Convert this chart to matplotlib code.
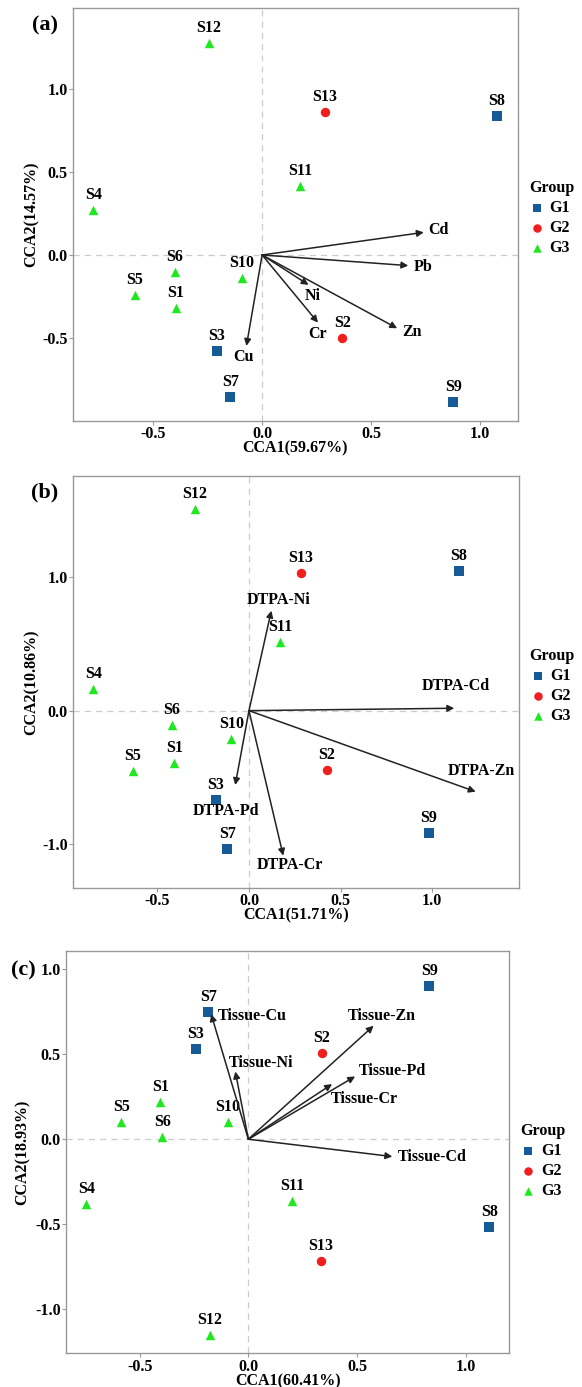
import matplotlib
matplotlib.use("Agg")
import matplotlib.pyplot as plt
import numpy as np

plt.rcParams["font.family"] = ["Liberation Serif", "DejaVu Serif"]
plt.rcParams["font.weight"] = "bold"
plt.rcParams["axes.unicode_minus"] = False

# sample names and groups (same for every panel)
samples = ["S1", "S2", "S3", "S4", "S5", "S6", "S7", "S8", "S9", "S10", "S11", "S12", "S13"]
groups = ["G3", "G2", "G1", "G3", "G3", "G3", "G1", "G1", "G1", "G3", "G3", "G3", "G2"]

# panel (a) - total metals
a_x = [-0.394, 0.368, -0.208, -0.774, -0.585, -0.399, -0.145, 1.077, 0.876, -0.094, 0.174, -0.244, 0.286]
a_y = [-0.319, -0.501, -0.580, 0.273, -0.239, -0.100, -0.856, 0.834, -0.886, -0.136, 0.415, 1.277, 0.858]
a_env = ["Cd", "Pb", "Ni", "Cr", "Zn", "Cu"]
a_env_x = [0.741, 0.670, 0.213, 0.256, 0.619, -0.072]
a_env_y = [0.136, -0.064, -0.180, -0.407, -0.441, -0.547]

# panel (b) - DTPA metals
b_x = [-0.408, 0.426, -0.181, -0.850, -0.633, -0.420, -0.118, 1.144, 0.980, -0.097, 0.172, -0.296, 0.284]
b_y = [-0.395, -0.448, -0.668, 0.165, -0.450, -0.108, -1.035, 1.050, -0.918, -0.215, 0.518, 1.515, 1.035]
b_env = ["DTPA-Ni", "DTPA-Cd", "DTPA-Zn", "DTPA-Pd", "DTPA-Cr"]
b_env_x = [0.122, 1.120, 1.237, -0.075, 0.187]
b_env_y = [0.750, 0.018, -0.608, -0.558, -1.088]

# panel (c) - tissue metals
c_x = [-0.405, 0.338, -0.241, -0.745, -0.585, -0.395, -0.185, 1.109, 0.832, -0.094, 0.202, -0.176, 0.332]
c_y = [0.220, 0.510, 0.533, -0.382, 0.100, 0.014, 0.751, -0.518, 0.902, 0.100, -0.361, -1.151, -0.714]
c_env = ["Tissue-Cu", "Tissue-Ni", "Tissue-Zn", "Tissue-Pd", "Tissue-Cr", "Tissue-Cd"]
c_env_x = [-0.171, -0.060, 0.576, 0.491, 0.385, 0.662]
c_env_y = [0.735, 0.398, 0.667, 0.369, 0.324, -0.102]

group_style = {
    "G1": dict(marker="s", color="#165a96"),
    "G2": dict(marker="o", color="#f01e1e"),
    "G3": dict(marker="^", color="#1ee81e"),
}

FS = 11.5


def draw_panel(ax, xs, ys, env, ex, ey, label_offsets, xlim, ylim, yticks,
               xlabel, ylabel, ylab_x, leg_y):
    ax.axhline(0, color="#cccccc", ls=(0, (5, 4)), lw=0.9, zorder=0)
    ax.axvline(0, color="#cccccc", ls=(0, (5, 4)), lw=0.9, zorder=0)

    for g in ["G1", "G2", "G3"]:
        idx = [i for i, gg in enumerate(groups) if gg == g]
        st = group_style[g]
        ax.scatter([xs[i] for i in idx], [ys[i] for i in idx], marker=st["marker"],
                   color=st["color"], s=46, zorder=3, label=g, linewidths=0)
    for i, s in enumerate(samples):
        ax.annotate(s, (xs[i], ys[i]), xytext=(0, 5), textcoords="offset points",
                    ha="center", va="bottom", fontsize=FS, fontweight="bold")

    for name, x, y, (dx, dy, ha) in zip(env, ex, ey, label_offsets):
        ax.annotate("", xy=(x, y), xytext=(0, 0),
                    arrowprops=dict(arrowstyle="-|>", color="#222222", lw=1.1,
                                    mutation_scale=10, shrinkA=0, shrinkB=0))
        ax.annotate(name, (x, y), xytext=(dx, dy), textcoords="offset points",
                    ha=ha, va="center", fontsize=FS, fontweight="bold")

    ax.set_xlim(*xlim)
    ax.set_ylim(*ylim)
    ax.set_xticks([-0.5, 0.0, 0.5, 1.0])
    ax.set_yticks(yticks)
    ax.xaxis.set_major_formatter(matplotlib.ticker.FormatStrFormatter("%.1f"))
    ax.yaxis.set_major_formatter(matplotlib.ticker.FormatStrFormatter("%.1f"))
    for sp in ax.spines.values():
        sp.set_color("#999999")
        sp.set_linewidth(1.0)
    ax.tick_params(colors="#999999", length=3, width=0.8, labelcolor="black",
                   labelsize=FS, pad=1)
    for t in ax.get_xticklabels() + ax.get_yticklabels():
        t.set_fontweight("bold")
    ax.set_xlabel(xlabel, fontsize=FS, fontweight="bold", labelpad=-1)
    ax.set_ylabel(ylabel, fontsize=FS, fontweight="bold")
    ax.yaxis.set_label_coords(ylab_x, 0.5)

    leg = ax.legend(loc="upper left", bbox_to_anchor=(1.0, leg_y), frameon=False,
                    title="Group", alignment="left", fontsize=FS,
                    title_fontproperties={"weight": "bold", "size": FS},
                    handletextpad=0.3, labelspacing=0.25, borderaxespad=0.3,
                    handlelength=1.0, markerscale=0.9)
    for t in leg.get_texts():
        t.set_fontweight("bold")


fig = plt.figure(figsize=(5.82, 13.87), dpi=100)

ax_a = fig.add_axes([0.1258, 0.6967, 0.7635, 0.2973])
draw_panel(ax_a, a_x, a_y, a_env, a_env_x, a_env_y,
           [(3, 2, "left"), (4, -1, "left"), (3, -8, "center"), (0, -8, "center"),
            (4, -3, "left"), (-2, -8, "center")],
           (-0.866, 1.171), (-0.997, 1.484), [-0.5, 0.0, 0.5, 1.0],
           "CCA1(59.67%)", "CCA2(14.57%)", -0.076, 0.61)

ax_b = fig.add_axes([0.1258, 0.3600, 0.7652, 0.2968])
draw_panel(ax_b, b_x, b_y, b_env, b_env_x, b_env_y,
           [(5, 8, "center"), (1, 16, "center"), (4, 15, "center"), (-7, -19, "center"),
            (5, -7, "center")],
           (-0.959, 1.471), (-1.328, 1.760), [-1.0, 0.0, 1.0],
           "CCA1(51.71%)", "CCA2(10.86%)", -0.076, 0.61)

ax_c = fig.add_axes([0.1137, 0.0243, 0.7613, 0.2903])
draw_panel(ax_c, c_x, c_y, c_env, c_env_x, c_env_y,
           [(5, -1, "left"), (-5, 6, "left"), (6, 7, "center"), (3, 4, "left"),
            (-1, -11, "left"), (4, 0, "left")],
           (-0.838, 1.200), (-1.259, 1.109), [-1.0, -0.5, 0.0, 0.5, 1.0],
           "CCA1(60.41%)", "CCA2(18.93%)", -0.08, 0.6)

fig.text(45 / 582, 1 - 25 / 1387, "(a)", fontsize=16, fontweight="bold", ha="center", va="center")
fig.text(45 / 582, 1 - 492 / 1387, "(b)", fontsize=16, fontweight="bold", ha="center", va="center")
fig.text(23 / 582, 1 - 970 / 1387, "(c)", fontsize=16, fontweight="bold", ha="center", va="center")

fig.savefig("out.png", dpi=100)
